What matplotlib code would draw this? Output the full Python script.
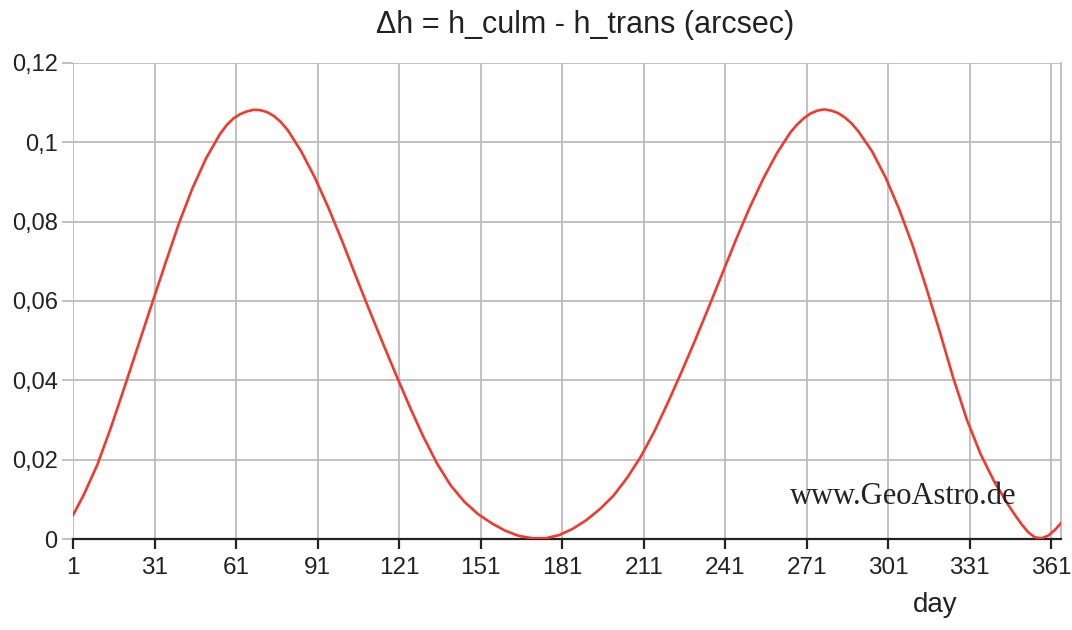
import matplotlib
matplotlib.use('Agg')
import matplotlib.pyplot as plt
from matplotlib.ticker import FuncFormatter

# day of year and delta h (arcsec)
days = [1, 5, 10, 15, 20, 25, 30, 35, 40, 45, 50, 55, 57.5, 60, 62.5, 65,
        67.5, 70, 72.5, 75, 77.5, 80, 85, 90, 95, 100, 105, 110, 115, 120,
        125, 130, 135, 140, 145, 150, 155, 160, 165, 170, 175, 180, 185, 190,
        195, 200, 205, 210, 215, 220, 225, 230, 235, 240, 245, 250, 255, 260,
        265, 267.5, 270, 272.5, 275, 277.5, 280, 282.5, 285, 287.5, 290, 295,
        300, 305, 310, 315, 320, 325, 330, 335, 340, 345, 347.5, 350, 352.5,
        355, 357.5, 360, 362.5, 365]
delta_h = [0.0060, 0.0112, 0.0188, 0.0282, 0.0384, 0.0488, 0.0592, 0.0695,
           0.0796, 0.0885, 0.0960, 0.1020, 0.1043, 0.1060, 0.1071, 0.1078,
           0.1082, 0.1081, 0.1076, 0.1066, 0.1051, 0.1031, 0.0977, 0.0911,
           0.0835, 0.0752, 0.0664, 0.0578, 0.0494, 0.0412, 0.0332, 0.0257,
           0.0190, 0.0135, 0.0094, 0.0063, 0.0040, 0.0021, 0.0008, 0.0002,
           0.0002, 0.0010, 0.0026, 0.0048, 0.0076, 0.0110, 0.0155, 0.0208,
           0.0272, 0.0345, 0.0422, 0.0502, 0.0585, 0.0670, 0.0755, 0.0835,
           0.0908, 0.0972, 0.1025, 0.1045, 0.1061, 0.1073, 0.1080, 0.1083,
           0.1080, 0.1074, 0.1063, 0.1048, 0.1028, 0.0978, 0.0912, 0.0832,
           0.0740, 0.0634, 0.0522, 0.0405, 0.0300, 0.0214, 0.0145, 0.0088,
           0.0062, 0.0038, 0.0017, 0.0004, 0.0002, 0.0009, 0.0024, 0.0043]

x_ticks = [1, 31, 61, 91, 121, 151, 181, 211, 241, 271, 301, 331, 361]
y_ticks = [0, 0.02, 0.04, 0.06, 0.08, 0.1, 0.12]

plt.rcParams['font.family'] = ['Liberation Sans', 'DejaVu Sans']

fig = plt.figure(figsize=(10.72, 6.30), dpi=100)
ax = fig.add_axes([73 / 1072, 91 / 630, 988 / 1072, 476 / 630])

grid_col = '#bcbcbc'
ax.plot(days, delta_h, color='#f03a2e', linewidth=1.9, zorder=3,
        solid_joinstyle='round')

ax.set_xlim(1, 364.6)
ax.set_ylim(0, 0.12)
ax.set_xticks(x_ticks)
ax.set_yticks(y_ticks)
ax.yaxis.set_major_formatter(FuncFormatter(lambda v, p: ('%g' % v).replace('.', ',')))
ax.grid(True, color=grid_col, linewidth=1.3)
ax.set_axisbelow(True)

for side in ['left', 'top']:
    ax.spines[side].set_visible(False)
ax.spines['right'].set_color(grid_col)
ax.spines['right'].set_linewidth(1.3)
ax.spines['bottom'].set_color('#222222')
ax.spines['bottom'].set_linewidth(1.6)

ax.tick_params(axis='x', direction='out', length=7, width=1.6, color='#222222',
               labelsize=17.5, labelcolor='#222222', pad=6)
ax.tick_params(axis='y', direction='out', length=8, width=1.3, color=grid_col,
               labelsize=17, labelcolor='#222222', pad=3)

fig.text(585 / 1072, 1 - 25 / 630, 'Δh = h_culm - h_trans (arcsec)',
         ha='center', va='center', fontsize=22, color='#222222')
fig.text(935 / 1072, 1 - 605 / 630, 'day', ha='center', va='center',
         fontsize=20, color='#222222')
fig.text(903 / 1072, 1 - 497 / 630, 'www.GeoAstro.de', ha='center', va='center',
         fontsize=22, color='#222222', family=['Liberation Serif', 'DejaVu Serif'])

fig.savefig('out.png', dpi=100)
